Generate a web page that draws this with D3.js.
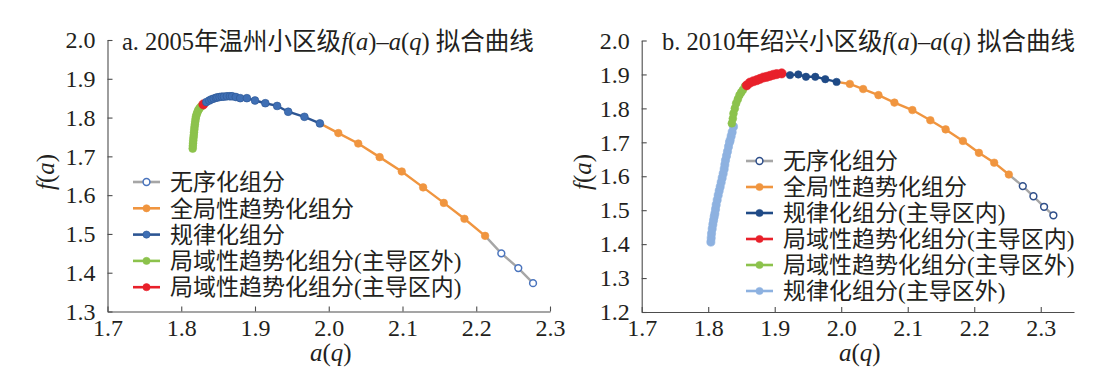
<!DOCTYPE html>
<html>
<head>
<meta charset="utf-8">
<script src="https://cdn.jsdelivr.net/npm/d3@7"></script>
<style>
  body { margin: 0; background: #fff; }
  svg text { font-family: "Liberation Serif", "Noto Sans CJK SC", serif; fill: #231f20; }
</style>
</head>
<body>
<div id="chart"></div>
<script>
// ---- panel a: 2005 Wenzhou ----
let aGreen = [[1.8155,1.720],[1.8157,1.727],[1.8160,1.734],[1.8163,1.741],[1.8166,1.748],[1.8170,1.755],
  [1.8173,1.762],[1.8177,1.769],[1.8180,1.776],[1.8185,1.783],[1.8190,1.790],[1.8195,1.797],[1.8200,1.803],
  [1.8210,1.809],[1.8220,1.814],[1.8230,1.819],[1.8245,1.823],[1.8260,1.827],[1.8280,1.830]];
let aRed = [[1.830,1.834]];
let aBlue = [[1.834,1.840],[1.838,1.844],[1.841,1.847],[1.844,1.849],[1.847,1.851],[1.849,1.852],[1.852,1.853],
  [1.855,1.854],[1.858,1.854],[1.862,1.855],[1.866,1.855],[1.869,1.855],[1.874,1.853],[1.880,1.850],[1.889,1.850],
  [1.900,1.844],[1.914,1.837],[1.930,1.830],[1.945,1.815],[1.967,1.802],[1.988,1.785]];
let aOrange = [[2.013,1.760],[2.040,1.733],[2.069,1.698],[2.099,1.661],[2.128,1.620],[2.156,1.580],[2.184,1.539],[2.212,1.495]];
let aGray = [[2.234,1.450],[2.257,1.412],[2.277,1.373]];

// ---- panel b: 2010 Shaoxing ----
let bLightBlue = [[1.804,1.406],[1.8045,1.418],[1.805,1.431],[1.806,1.445],[1.807,1.458],[1.808,1.470],[1.809,1.481],
  [1.810,1.490],[1.811,1.503],[1.812,1.516],[1.8135,1.530],[1.815,1.544],[1.8165,1.557],[1.818,1.569],[1.8195,1.582],
  [1.821,1.595],[1.8225,1.608],[1.824,1.621],[1.825,1.634],[1.826,1.647],[1.8275,1.660],[1.829,1.673],[1.8305,1.687],
  [1.832,1.700],[1.833,1.706],[1.8345,1.718],[1.836,1.730],[1.838,1.746]];
let bGreen = [[1.8355,1.756],[1.837,1.770],[1.838,1.785],[1.840,1.800],[1.842,1.815],[1.8445,1.827],[1.847,1.839],
  [1.8495,1.847],[1.852,1.854],[1.855,1.864]];
let bRed = [[1.858,1.868],[1.863,1.876],[1.868,1.880],[1.873,1.883],[1.878,1.887],[1.883,1.891],[1.888,1.893],
  [1.893,1.896],[1.898,1.899],[1.903,1.901],[1.9105,1.903]];
let bBlue = [[1.923,1.898],[1.9355,1.900],[1.947,1.893],[1.961,1.893],[1.976,1.886],[1.993,1.878]];
let bOrange = [[2.013,1.872],[2.033,1.857],[2.056,1.839],[2.080,1.817],[2.107,1.795],[2.134,1.765],[2.157,1.738],
  [2.183,1.704],[2.207,1.669],[2.230,1.640],[2.252,1.605]];
let bGray = [[2.273,1.571],[2.289,1.541],[2.305,1.510],[2.319,1.485]];

let xTicks = [1.7, 1.8, 1.9, 2.0, 2.1, 2.2, 2.3];
let aYTicks = [1.3, 1.4, 1.5, 1.6, 1.7, 1.8, 1.9, 2.0];
let bYTicks = [1.2, 1.3, 1.4, 1.5, 1.6, 1.7, 1.8, 1.9, 2.0];

let aLegend = ['无序化组分', '全局性趋势化组分', '规律化组分', '局域性趋势化组分(主导区外)', '局域性趋势化组分(主导区内)'];
let bLegend = ['无序化组分', '全局性趋势化组分', '规律化组分(主导区内)', '局域性趋势化组分(主导区内)', '局域性趋势化组分(主导区外)', '规律化组分(主导区外)'];

// styles
let st = {
  gray:   { line: '#a6a6a6', fill: '#fff',    stroke: '#4a74bd', r: 3.4, open: true },
  grayB:  { line: '#a6a6a6', fill: '#fff',    stroke: '#2f4f8a', r: 3.4, open: true },
  orange: { line: '#f0953f', fill: '#f0953f', stroke: '#f0953f', r: 3.8 },
  blue:   { line: '#2c5593', fill: '#3f6fb4', stroke: '#2c5593', r: 3.9 },
  navy:   { line: '#1f4a86', fill: '#1f4a86', stroke: '#1f4a86', r: 3.7 },
  green:  { line: '#8cc24c', fill: '#8cc24c', stroke: '#8cc24c', r: 3.9 },
  red:    { line: '#e8202a', fill: '#e8202a', stroke: '#e8202a', r: 4.6 },
  lblue:  { line: '#8db1e0', fill: '#8db1e0', stroke: '#8db1e0', r: 4.1 }
};

let panels = [
  {
    title: ['a. 2005', '年温州小区级'],
    x: d3.scaleLinear().domain([1.7, 2.3]).range([107.5, 550]),
    y: d3.scaleLinear().domain([1.3, 2.0]).range([311.5, 40]),
    yTicks: aYTicks,
    titleX: 122,
    yLabelX: 46,
    series: [[aGreen, st.green], [aRed, st.red], [aBlue, st.blue], [aOrange, st.orange], [aGray, st.gray]],
    legend: aLegend,
    legendStyles: [st.gray, st.orange, st.blue, st.green, st.red],
    legendX: 133, legendY: 182, legendStep: 26.3
  },
  {
    title: ['b. 2010', '年绍兴小区级'],
    x: d3.scaleLinear().domain([1.7, 2.35]).range([641.7, 1074]),
    y: d3.scaleLinear().domain([1.2, 2.0]).range([312, 40.5]),
    yTicks: bYTicks,
    titleX: 662,
    yLabelX: 583,
    series: [[bLightBlue, st.lblue], [bGreen, st.green], [bRed, st.red], [bBlue, st.navy], [bOrange, st.orange], [bGray, st.grayB]],
    legend: bLegend,
    legendStyles: [st.grayB, st.orange, st.navy, st.red, st.green, st.lblue],
    legendX: 746, legendY: 161, legendStep: 26
  }
];

let svg = d3.select('#chart').append('svg')
  .attr('width', 1114).attr('height', 376);

panels.forEach(function(p) {
  let g = svg.append('g');
  let x = p.x, y = p.y;

  // axes
  let xAxis = g.append('g')
    .attr('transform', `translate(0,${y.range()[0]})`)
    .call(d3.axisBottom(x).tickValues(xTicks).tickFormat(d3.format('.1f'))
      .tickSizeInner(-5).tickSizeOuter(0).tickPadding(7));
  let yAxis = g.append('g')
    .attr('transform', `translate(${x.range()[0]},0)`)
    .call(d3.axisLeft(y).tickValues(p.yTicks).tickFormat(d3.format('.1f'))
      .tickSizeInner(-5).tickSizeOuter(0).tickPadding(12));
  [xAxis, yAxis].forEach(function(a) {
    a.selectAll('path, line').attr('stroke', '#4d4d4d').attr('stroke-width', 1.1);
    a.selectAll('text').style('font-size', '24px').attr('fill', '#231f20')
      .style('font-family', '"Liberation Serif", serif');
  });

  // axis titles
  let xl = g.append('text')
    .attr('x', (x.range()[0] + x.range()[1]) / 2 + 2)
    .attr('y', 361).attr('text-anchor', 'middle')
    .style('font-size', '25px');
  xl.append('tspan').style('font-style', 'italic').text('a');
  xl.append('tspan').text('(');
  xl.append('tspan').style('font-style', 'italic').text('q');
  xl.append('tspan').text(')');

  let yl = g.append('text')
    .attr('transform', `translate(${p.yLabelX + 8},172) rotate(-90)`)
    .attr('text-anchor', 'middle')
    .style('font-size', '25px');
  yl.append('tspan').style('font-style', 'italic').text('f');
  yl.append('tspan').text('(');
  yl.append('tspan').style('font-style', 'italic').text('a');
  yl.append('tspan').text(')');

  // title
  let t = g.append('text').attr('x', p.titleX).attr('y', 50).style('font-size', '24.5px');
  t.append('tspan').text(p.title[0]);
  t.append('tspan').text(p.title[1]);
  t.append('tspan').style('font-style', 'italic').text('f');
  t.append('tspan').text('(');
  t.append('tspan').style('font-style', 'italic').text('a');
  t.append('tspan').text(')–');
  t.append('tspan').style('font-style', 'italic').text('a');
  t.append('tspan').text('(');
  t.append('tspan').style('font-style', 'italic').text('q');
  t.append('tspan').text(') 拟合曲线');

  // curve: each series line starts at previous series' last point
  let line = d3.line().x(d => x(d[0])).y(d => y(d[1]));
  p.series.forEach(function(s, i) {
    let pts = s[0];
    let path = i > 0 ? [p.series[i - 1][0][p.series[i - 1][0].length - 1]].concat(pts) : pts;
    g.append('path').datum(path)
      .attr('d', line).attr('fill', 'none')
      .attr('stroke', s[1].line).attr('stroke-width', 2.4);
  });
  p.series.forEach(function(s) {
    g.append('g').selectAll('circle').data(s[0]).join('circle')
      .attr('cx', d => x(d[0])).attr('cy', d => y(d[1]))
      .attr('r', s[1].r)
      .attr('fill', s[1].fill)
      .attr('stroke', s[1].stroke)
      .attr('stroke-width', s[1].open ? 1.5 : 0.6);
  });

  // legend
  let lg = g.append('g').selectAll('g').data(p.legend).join('g')
    .attr('transform', (d, i) => `translate(${p.legendX},${p.legendY + i * p.legendStep})`);
  lg.append('line').attr('x1', 0).attr('x2', 27).attr('y1', 0).attr('y2', 0)
    .attr('stroke', (d, i) => p.legendStyles[i].line).attr('stroke-width', 2.6);
  lg.append('circle').attr('cx', 13.5).attr('cy', 0)
    .attr('r', (d, i) => Math.min(p.legendStyles[i].r, 3.6))
    .attr('fill', (d, i) => p.legendStyles[i].fill)
    .attr('stroke', (d, i) => p.legendStyles[i].stroke)
    .attr('stroke-width', (d, i) => p.legendStyles[i].open ? 1.5 : 0.6);
  lg.append('text').attr('x', 37).attr('y', 0).attr('dy', '0.36em')
    .style('font-size', '23px').text(d => d);
});
</script>
</body>
</html>
